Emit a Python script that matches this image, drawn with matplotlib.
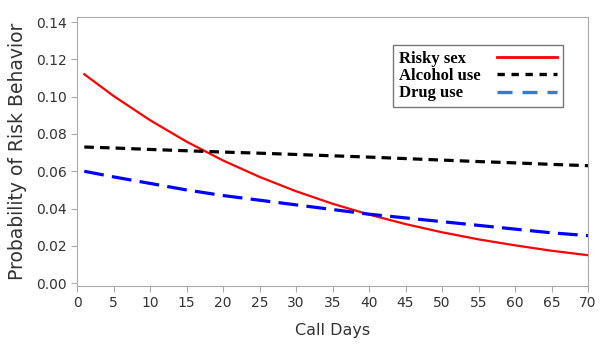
import matplotlib
matplotlib.use("Agg")
from matplotlib import pyplot as plt
from matplotlib.lines import Line2D
import numpy as np

days = [1, 5, 10, 15, 20, 25, 30, 35, 40, 45, 50, 55, 60, 65, 70]
risky_sex = [0.112, 0.1004, 0.0874, 0.0759, 0.0658, 0.0570, 0.0493, 0.0426,
             0.0368, 0.0317, 0.0273, 0.0235, 0.0203, 0.0174, 0.015]
alcohol_use = [0.073, 0.0725, 0.0717, 0.071, 0.0703, 0.0697, 0.069, 0.0683,
               0.0676, 0.0668, 0.066, 0.0652, 0.0645, 0.0637, 0.063]
drug_use = [0.060, 0.057, 0.0535, 0.050, 0.047, 0.0445, 0.042, 0.0395,
            0.037, 0.035, 0.033, 0.031, 0.029, 0.027, 0.0255]
labels = ["Risky sex", "Alcohol use", "Drug use"]

xticks = np.arange(0, 75, 5)
yticks = np.arange(0, 0.15, 0.02)

fig = plt.figure(figsize=(6.01, 3.52), dpi=100)
ax = fig.add_axes([77 / 601, (352 - 286) / 352, 511 / 601, 269 / 352])

ax.plot(days, risky_sex, color="#ff0000", lw=1.6)
ax.plot(days, alcohol_use, color="black", lw=2.3, dashes=(3.0, 1.9))
ax.plot(days, drug_use, color="#0000ff", lw=2.3, dashes=(6.2, 2.6))

ax.set_xlim(0, 70)
ax.set_ylim(-0.0015, 0.1427)
ax.set_xticks(xticks)
ax.set_yticks(yticks)
ax.set_yticklabels([f"{v:.2f}" for v in yticks])
for s in ax.spines.values():
    s.set_color("#aaaaaa")
ax.tick_params(colors="#aaaaaa", labelcolor="#333333", labelsize=10, length=4)
ax.set_xlabel("Call Days", fontsize=11.5, color="#333333", labelpad=9)
ax.set_ylabel("Probability of Risk Behavior", fontsize=13.5, color="#333333", labelpad=6)

handles = [
    Line2D([], [], color="#ff0000", lw=2),
    Line2D([], [], color="black", lw=2.4, dashes=(2.2, 2.0)),
    Line2D([], [], color="#2a7fd4", lw=2.4, dashes=(4.5, 3)),
]
leg = ax.legend(handles, labels,
                loc="upper left", bbox_to_anchor=(0.618, 0.896), borderaxespad=0,
                markerfirst=False, frameon=True, fancybox=False,
                prop={"family": "Liberation Serif", "weight": "bold", "size": 12},
                handlelength=3.6, handletextpad=1.0, labelspacing=0.08,
                borderpad=0.35)
leg.get_frame().set_edgecolor("#555555")
leg.get_frame().set_linewidth(1.0)

# left-align legend texts: pad each row so that all rows have equal width
fig.canvas.draw()
renderer = fig.canvas.get_renderer()
widths = [t.get_window_extent(renderer).width for t in leg.get_texts()]
dpicor = renderer.points_to_pixels(1.0)
rows = [r for col in leg._legend_handle_box.get_children() for r in col.get_children()]
for row, w in zip(rows, widths):
    row.sep += (max(widths) - w) / dpicor

fig.savefig("out.png", dpi=100)
